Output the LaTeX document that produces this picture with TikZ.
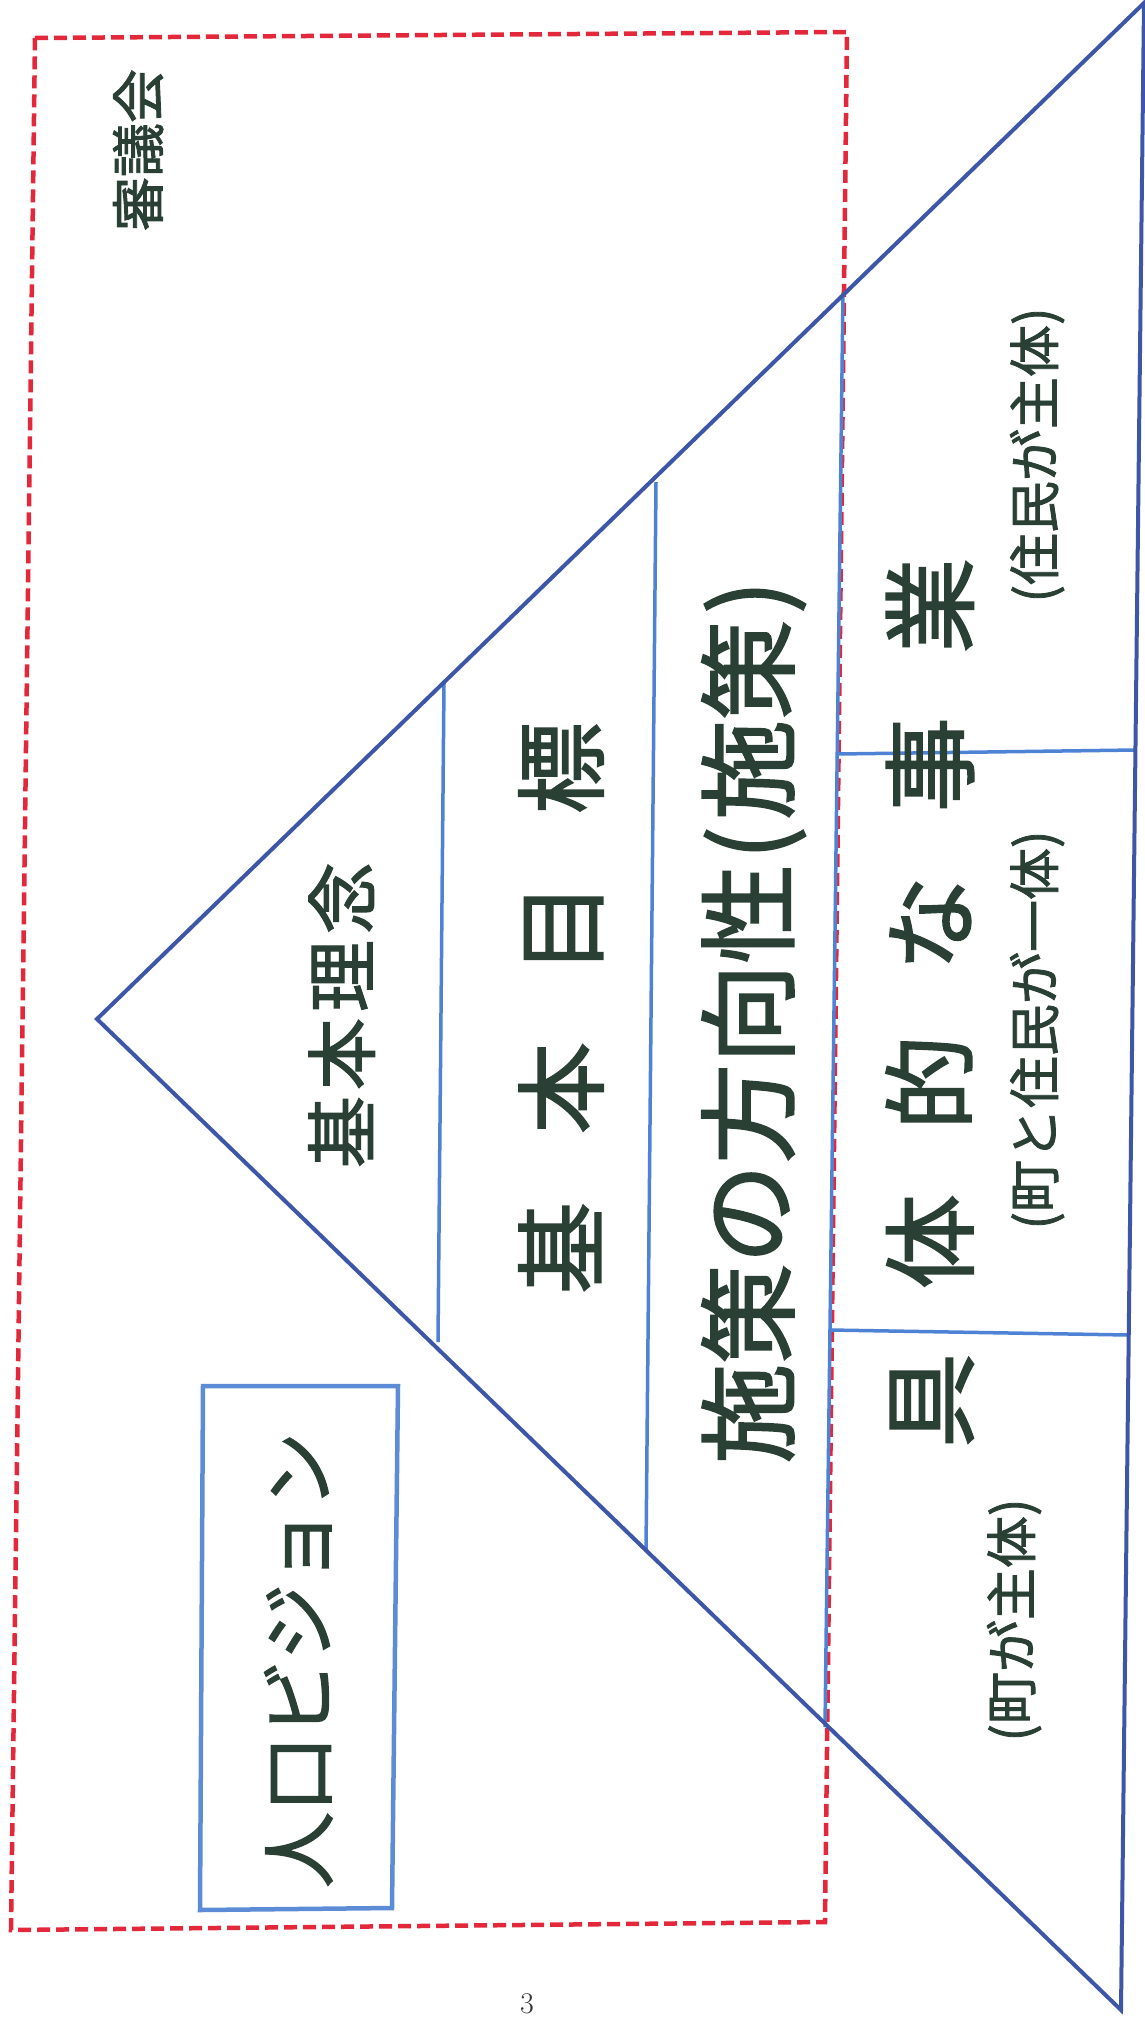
\documentclass[tikz,border=0pt]{standalone}
\usepackage{fontspec}
\newfontfamily\jp{Noto Sans CJK JP}[FakeBold=1.6]
\definecolor{redline}{RGB}{226,40,58}
\definecolor{triblue}{RGB}{62,86,168}
\definecolor{inblue}{RGB}{78,130,212}
\definecolor{boxblue}{RGB}{92,140,214}
\definecolor{txt}{RGB}{42,64,52}
\tikzset{
  jt/.style={rotate=90, anchor=base, inner sep=0pt, text=txt},
  redbox/.style={draw=redline, line width=4.5pt, dash pattern=on 13pt off 6pt},
  triline/.style={draw=triblue, line width=4pt, line join=miter},
  inline/.style={draw=inblue, line width=3.5pt},
  visionbox/.style={draw=boxblue, line width=4.5pt}
}
\begin{document}
\begin{tikzpicture}[x=1pt,y=-1pt]
\fill[white] (0,0) rectangle (1145,2022);
\useasboundingbox (0,0) rectangle (1145,2022);
% red dashed frame
\coordinate (r1) at (35,38);
\coordinate (r2) at (847,32);
\coordinate (r3) at (825,1922);
\coordinate (r4) at (11,1930);
\draw[redbox] (r1) -- (r2) -- (r3) -- (r4) -- cycle;
% pyramid
\coordinate (apex) at (97,1019);
\coordinate (top) at (1144,3);
\coordinate (bot) at (1121,2010);
\coordinate (a1) at (444,683);
\coordinate (a2) at (438,1342);
\coordinate (b1) at (656,482);
\coordinate (b2) at (646,1552);
\coordinate (c1) at (843,293);
\coordinate (c2) at (825,1727);
\coordinate (h1a) at (837,754);
\coordinate (h1b) at (1136,750);
\coordinate (h2a) at (830,1330);
\coordinate (h2b) at (1129,1335);
\draw[inline] (a1) -- (a2);
\draw[inline] (b1) -- (b2);
\draw[inline] (c1) -- (c2);
\draw[inline] (h1a) -- (h1b);
\draw[inline] (h2a) -- (h2b);
\draw[triline] (apex) -- (top) -- (bot) -- cycle;
% population vision box
\coordinate (v1) at (203,1386);
\coordinate (v2) at (398,1386);
\coordinate (v3) at (392,1908);
\coordinate (v4) at (200,1910);
\draw[visionbox] (v1) -- (v2) -- (v3) -- (v4) -- cycle;
% texts
\node[jt, font={\jp\fontsize{54}{54}\selectfont}] (council) at (158.5,150) {審議会};
\node[jt, font={\jp\fontsize{72}{72}\selectfont}] (rinen) at (369,1015) {基\hspace{6pt}本\hspace{6pt}理\hspace{6pt}念};
\node[jt, font={\jp\fontsize{92}{92}\selectfont}] (mokuhyo) at (596,1008) {基\hspace{68pt}本\hspace{68pt}目\hspace{68pt}標};
\node[jt, font={\jp\fontsize{100}{100}\selectfont}] (shisaku) at (786,1022) {施策の方向性\hspace{4pt}(\hspace{6pt}施策\hspace{6pt})};
\node[jt, font={\jp\fontsize{95}{95}\selectfont}] (jigyo) at (966,1003) {具\hspace{64pt}体\hspace{64pt}的\hspace{64pt}な\hspace{64pt}事\hspace{64pt}業};
\node[jt, font={\jp\fontsize{52}{52}\selectfont}] (jumin) at (1054,455) {(住民が主体)};
\node[jt, font={\jp\fontsize{52}{52}\selectfont}] (ittai) at (1054,1030) {(町と住民が一体)};
\node[jt, font={\jp\fontsize{52}{52}\selectfont}] (machi) at (1031,1620) {(町が主体)};
\node[jt, font={\jp\fontsize{76}{76}\selectfont}] (vision) at (327,1660) {人口ビジョン};
\node[inner sep=0pt, text=black!80, font={\fontsize{30}{30}\selectfont}] (page) at (527,2004) {3};
\end{tikzpicture}
\end{document}
